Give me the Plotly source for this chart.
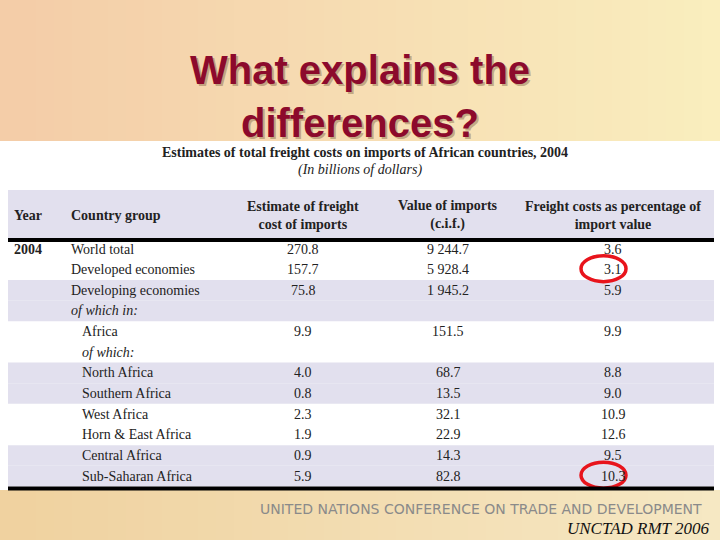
import plotly.graph_objects as go

title_lines = ["What explains the", "differences?"]
table_title = "Estimates of total freight costs on imports of African countries, 2004"
table_sub = "(In billions of dollars)"
headers = ["Year", "Country group", "Estimate of freight<br>cost of imports", "Value of imports<br>(c.i.f.)", "Freight costs as percentage of<br>import value"]
groups = ["World total", "Developed economies", "Developing economies", "of which in:", "Africa", "of which:",
          "North Africa", "Southern Africa", "West Africa", "Horn & East Africa", "Central Africa", "Sub-Saharan Africa"]
indent = [0, 0, 0, 0, 1, 1, 1, 1, 1, 1, 1, 1]
italic = [False, False, False, True, False, True, False, False, False, False, False, False]
freight = ["270.8", "157.7", "75.8", "", "9.9", "", "4.0", "0.8", "2.3", "1.9", "0.9", "5.9"]
imports = ["9 244.7", "5 928.4", "1 945.2", "", "151.5", "", "68.7", "13.5", "32.1", "22.9", "14.3", "82.8"]
pct = ["3.6", "3.1", "5.9", "", "9.9", "", "8.8", "9.0", "10.9", "12.6", "9.5", "10.3"]
shaded = [False, False, True, True, False, False, True, True, False, False, True, True]
circled_rows = [1, 11]

fig = go.Figure()
shapes, ann = [], []

def lerp(c1, c2, t):
    return "rgb(%d,%d,%d)" % tuple(int(a + (b - a) * t) for a, b in zip(c1, c2))

N = 40
for i in range(N):
    t = i / (N - 1)
    col = lerp((244, 205, 168), (250, 238, 190), t)
    shapes.append(dict(type="rect", x0=720 * i / N, x1=720 * (i + 1) / N + 1, y0=0, y1=141, fillcolor=col, line_width=0, layer="below"))
    col2 = lerp((240, 210, 160), (246, 232, 195), t)
    shapes.append(dict(type="rect", x0=720 * i / N, x1=720 * (i + 1) / N + 1, y0=490, y1=540, fillcolor=col2, line_width=0, layer="below"))

for k, line in enumerate(title_lines):
    y = 70 + k * 53
    ann.append(dict(x=362, y=y + 2, text="<b>%s</b>" % line, showarrow=False, xanchor="center", yanchor="middle",
                    font=dict(family="Liberation Sans", size=40, color="rgba(110,80,50,0.4)")))
    ann.append(dict(x=360, y=y, text="<b>%s</b>" % line, showarrow=False, xanchor="center", yanchor="middle",
                    font=dict(family="Liberation Sans", size=40, color="#8c0a2c")))

serif = "Liberation Serif"
ann.append(dict(x=365, y=152, text="<b>" + table_title + "</b>", showarrow=False, xanchor="center", yanchor="middle",
                font=dict(family=serif, size=14, color="#222")))
ann.append(dict(x=360, y=170, text="<i>" + table_sub + "</i>", showarrow=False, xanchor="center", yanchor="middle",
                font=dict(family=serif, size=14, color="#222")))

shapes.append(dict(type="rect", x0=8, x1=714, y0=190, y1=238, fillcolor="#e2e0ee", line_width=0, layer="below"))
hx = [12, 69, 303, 448, 613]
for j, h in enumerate(headers):
    ann.append(dict(x=hx[j], y=215, text="<b>%s</b>" % h, showarrow=False,
                    xanchor="left" if j < 2 else "center", yanchor="middle", align="center" if j >= 2 else "left",
                    font=dict(family=serif, size=14, color="#222")))
shapes.append(dict(type="line", x0=8, x1=714, y0=240, y1=240, line=dict(color="black", width=4)))
ann.append(dict(x=12, y=249, text="<b>2004</b>", showarrow=False, xanchor="left", yanchor="middle",
                font=dict(family=serif, size=14, color="#222")))

y0, rh = 249, 20.65
for i, g in enumerate(groups):
    y = y0 + i * rh
    if shaded[i]:
        shapes.append(dict(type="rect", x0=8, x1=714, y0=y - rh / 2, y1=y + rh / 2, fillcolor="#e2e0ee", line_width=0, layer="below"))
    ann.append(dict(x=69 + 11 * indent[i], y=y, text=("<i>%s</i>" % g) if italic[i] else g, showarrow=False,
                    xanchor="left", yanchor="middle", font=dict(family=serif, size=14, color="#222")))
    for xc, v in zip(hx[2:], [freight[i], imports[i], pct[i]]):
        if v:
            ann.append(dict(x=xc, y=y, text=v, showarrow=False, xanchor="center", yanchor="middle",
                            font=dict(family=serif, size=14, color="#222")))
    if i in circled_rows:
        shapes.append(dict(type="circle", x0=hx[4] - 32, x1=hx[4] + 13, y0=y - 14, y1=y + 12,
                           line=dict(color="#e8141c", width=3.5)))
shapes.append(dict(type="line", x0=8, x1=714, y0=y0 + 11.5 * rh + 2, y1=y0 + 11.5 * rh + 2, line=dict(color="black", width=4)))

ann.append(dict(x=704, y=509, text="UNITED NATIONS CONFERENCE ON TRADE AND DEVELOPMENT", showarrow=False, xanchor="right",
                yanchor="middle", font=dict(family="DejaVu Sans", size=14, color="#8a8a8a")))
ann.append(dict(x=712, y=528, text="<i>UNCTAD RMT 2006</i>", showarrow=False, xanchor="right", yanchor="middle",
                font=dict(family=serif, size=17, color="#111")))

fig.update_layout(width=720, height=540, margin=dict(l=0, r=0, t=0, b=0), plot_bgcolor="white", paper_bgcolor="white",
                  xaxis=dict(range=[0, 720], visible=False, fixedrange=True),
                  yaxis=dict(range=[540, 0], visible=False, fixedrange=True),
                  shapes=shapes, annotations=ann, showlegend=False)
fig.write_html("out.html", config={"displayModeBar": False},
               post_script="document.body.style.margin='0';document.body.style.overflow='hidden';")
